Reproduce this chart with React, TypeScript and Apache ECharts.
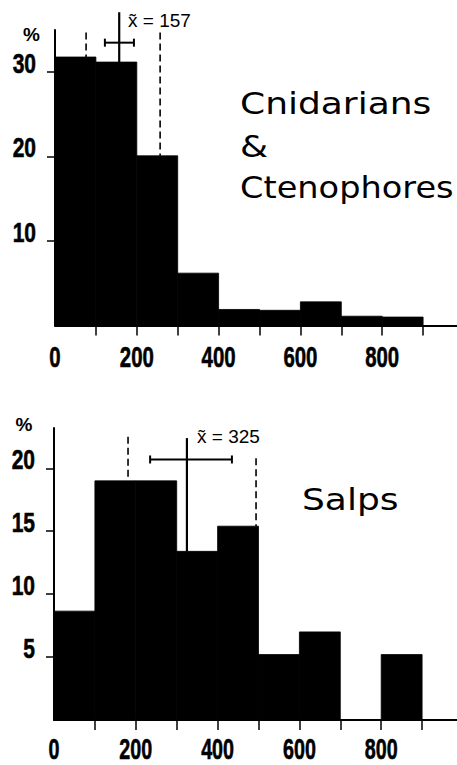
import React, { useEffect, useRef } from "react";
import * as echarts from "echarts";

// ---- data ----
const binEdges = [0, 100, 200, 300, 400, 500, 600, 700, 800, 900];
const cnidValues = [31.8, 31.2, 20.1, 6.2, 1.9, 1.8, 2.8, 1.1, 1.0];
const salpValues = [8.65, 19.0, 19.0, 13.4, 15.4, 5.2, 7.0, 0, 5.2];

const xTickValues = [100, 200, 300, 400, 500, 600, 700, 800, 900];
const xLabelValues = [0, 200, 400, 600, 800];
const cnidYTicks = [10, 20, 30];
const salpYTicks = [5, 10, 15, 20];

const cnidMedian = 157;
const cnidMedianTop = 37.1;
const cnidRange = [122, 193];
const cnidRangeY = 33.5;
const cnidQuartiles = [76, 257];
const cnidQuartileTops = [34.7, 34.7];

const salpMedian = 325;
const salpMedianTop = 22.4;
const salpRange = [235, 435];
const salpRangeY = 20.7;
const salpQuartiles = [181, 494];
const salpQuartileTops = [22.5, 20.8];

const cnidTitle = ["Cnidarians", "&", "Ctenophores"];
const salpTitle = "Salps";
const cnidMedianLabel = "x\u0303 = 157";
const salpMedianLabel = "x\u0303 = 325";

// ---- helpers ----
const barAt = (values: number[], x: number) => {
  for (let i = 0; i < binEdges.length - 1; i++) {
    if (x >= binEdges[i] && x < binEdges[i + 1]) return values[i];
  }
  return 0;
};

const makeBars = (values: number[]) =>
  values.map((v, i) => [binEdges[i], binEdges[i + 1], v]);

const makeAnnotations = (
  values: number[],
  median: number,
  medianTop: number,
  range: number[],
  rangeY: number,
  quartiles: number[],
  quartileTops: number[]
) => [
  ...quartiles.map((q, i) => [0, q, quartileTops[i], barAt(values, q)]),
  [1, median, medianTop, barAt(values, median)],
  [2, range[0], range[1], rangeY],
];

const LABEL_FONT = "'Liberation Sans', Arial, sans-serif";

const renderBars = (params: any, api: any) => {
  const p0 = api.coord([api.value(0), api.value(2)]);
  const p1 = api.coord([api.value(1), 0]);
  return {
    type: "rect",
    shape: { x: p0[0], y: p0[1], width: p1[0] - p0[0], height: p1[1] - p0[1] },
    style: { fill: "#000", stroke: "#000", lineWidth: 0.8 },
  };
};

const renderAnn = (params: any, api: any) => {
  const kind = api.value(0);
  if (kind === 2) {
    const a = api.coord([api.value(1), api.value(3)]);
    const b = api.coord([api.value(2), api.value(3)]);
    const st = { stroke: "#000", lineWidth: 2 };
    return {
      type: "group",
      children: [
        { type: "line", shape: { x1: a[0], y1: a[1], x2: b[0], y2: b[1] }, style: st },
        { type: "line", shape: { x1: a[0], y1: a[1] - 4, x2: a[0], y2: a[1] + 4 }, style: st },
        { type: "line", shape: { x1: b[0], y1: b[1] - 4, x2: b[0], y2: b[1] + 4 }, style: st },
      ],
    };
  }
  const t = api.coord([api.value(1), api.value(2)]);
  const b = api.coord([api.value(1), api.value(3)]);
  return {
    type: "line",
    shape: { x1: t[0], y1: t[1], x2: b[0], y2: b[1] },
    style: {
      stroke: "#000",
      lineWidth: kind === 0 ? 1.6 : 2.2,
      lineDash: kind === 0 ? [7, 4] : null,
    },
  };
};

// condensed bold tick labels, positioned through the axes' scales
const xLabelRenderer = (fontSize: number, dy: number) => (params: any, api: any) => {
  const v = api.value(0);
  const p = api.coord([v, 0]);
  return {
    type: "text",
    x: p[0],
    y: p[1] + dy,
    scaleX: 0.68,
    style: {
      text: String(v),
      fontFamily: LABEL_FONT,
      fontWeight: "bold",
      fontSize,
      fill: "#000",
      stroke: "#000",
      lineWidth: 0.6,
      align: "center",
      verticalAlign: "middle",
    },
  };
};

const yLabelRenderer = (params: any, api: any) => {
  const v = api.value(1);
  const p = api.coord([0, v]);
  return {
    type: "text",
    x: p[0] - 19,
    y: p[1] - 9,
    scaleX: 0.75,
    style: {
      text: String(v),
      fontFamily: LABEL_FONT,
      fontWeight: "bold",
      fontSize: 28,
      fill: "#000",
      stroke: "#000",
      lineWidth: 0.6,
      align: "right",
      verticalAlign: "middle",
    },
  };
};

const xAxisCfg = (gridIndex: number) => ({
  type: "value",
  gridIndex,
  min: 0,
  max: 1000,
  axisLine: { show: true, lineStyle: { color: "#000", width: 2 } },
  axisTick: {
    show: true,
    customValues: xTickValues,
    length: 10,
    lineStyle: { color: "#000", width: 1.5 },
  },
  axisLabel: { show: false },
  splitLine: { show: false },
});

const yAxisCfg = (gridIndex: number, max: number, ticks: number[]) => ({
  type: "value",
  gridIndex,
  min: 0,
  max,
  axisLine: { show: true, lineStyle: { color: "#000", width: 2 } },
  axisTick: {
    show: true,
    customValues: ticks,
    length: 8,
    lineStyle: { color: "#000", width: 1.5 },
  },
  axisLabel: { show: false },
  splitLine: { show: false },
});

const bigText = (text: string, x: number, y: number, scaleX: number) => ({
  type: "text",
  x,
  y,
  scaleX,
  style: {
    text,
    fontFamily: "'DejaVu Sans', sans-serif",
    fontSize: 30,
    fill: "#000",
    align: "left",
    verticalAlign: "middle",
  },
});

const smallText = (text: string, x: number, y: number) => ({
  type: "text",
  x,
  y,
  style: {
    text,
    fontFamily: LABEL_FONT,
    fontSize: 19,
    fill: "#000",
    align: "left",
    verticalAlign: "middle",
  },
});

const pctText = (x: number, y: number) => ({
  type: "text",
  x,
  y,
  style: {
    text: "%",
    fontFamily: LABEL_FONT,
    fontWeight: "bold",
    fontSize: 19,
    fill: "#000",
    align: "center",
    verticalAlign: "middle",
  },
});

const labelSeries = (axisIndex: number, data: number[][], renderItem: any) => ({
  type: "custom",
  xAxisIndex: axisIndex,
  yAxisIndex: axisIndex,
  renderItem,
  clip: false,
  encode: { x: 0, y: 1 },
  data,
  silent: true,
});

export default function App() {
  const ref = useRef<HTMLDivElement>(null);
  useEffect(() => {
    if (!ref.current) return;
    const chart = echarts.init(ref.current, null, { renderer: "svg" });
    chart.setOption({
      animation: false,
      backgroundColor: "#fff",
      grid: [
        { left: 55, top: 30, width: 409, height: 295.5 },
        { left: 54, top: 428, width: 409, height: 292 },
      ],
      xAxis: [xAxisCfg(0), xAxisCfg(1)],
      yAxis: [yAxisCfg(0, 35, cnidYTicks), yAxisCfg(1, 23.2, salpYTicks)],
      series: [
        {
          type: "custom",
          xAxisIndex: 0,
          yAxisIndex: 0,
          renderItem: renderBars,
          data: makeBars(cnidValues),
          silent: true,
        },
        {
          type: "custom",
          xAxisIndex: 0,
          yAxisIndex: 0,
          renderItem: renderAnn,
          clip: false,
          data: makeAnnotations(
            cnidValues,
            cnidMedian,
            cnidMedianTop,
            cnidRange,
            cnidRangeY,
            cnidQuartiles,
            cnidQuartileTops
          ),
          silent: true,
        },
        {
          type: "custom",
          xAxisIndex: 1,
          yAxisIndex: 1,
          renderItem: renderBars,
          data: makeBars(salpValues),
          silent: true,
        },
        {
          type: "custom",
          xAxisIndex: 1,
          yAxisIndex: 1,
          renderItem: renderAnn,
          clip: false,
          data: makeAnnotations(
            salpValues,
            salpMedian,
            salpMedianTop,
            salpRange,
            salpRangeY,
            salpQuartiles,
            salpQuartileTops
          ),
          silent: true,
        },
        labelSeries(0, xLabelValues.map((v) => [v, 0]), xLabelRenderer(30, 30.5)),
        labelSeries(1, xLabelValues.map((v) => [v, 0]), xLabelRenderer(29, 29)),
        labelSeries(0, cnidYTicks.map((v) => [0, v]), yLabelRenderer),
        labelSeries(1, salpYTicks.map((v) => [0, v]), yLabelRenderer),
      ],
      graphic: [
        pctText(31.5, 34.5),
        pctText(24, 424),
        smallText(cnidMedianLabel, 128, 20.5),
        smallText(salpMedianLabel, 197, 436.5),
        bigText(cnidTitle[0], 240, 104, 1.2),
        bigText(cnidTitle[1], 240, 147, 1.2),
        bigText(cnidTitle[2], 240, 187.5, 1.12),
        bigText(salpTitle, 302, 500, 1.2),
      ],
    });
    return () => chart.dispose();
  }, []);
  return (
    <div
      style={{
        position: "absolute",
        left: 0,
        top: 0,
        width: 457,
        height: 765,
        overflow: "hidden",
        background: "#fff",
      }}
    >
      <div ref={ref} style={{ width: 470, height: 765 }} />
    </div>
  );
}
